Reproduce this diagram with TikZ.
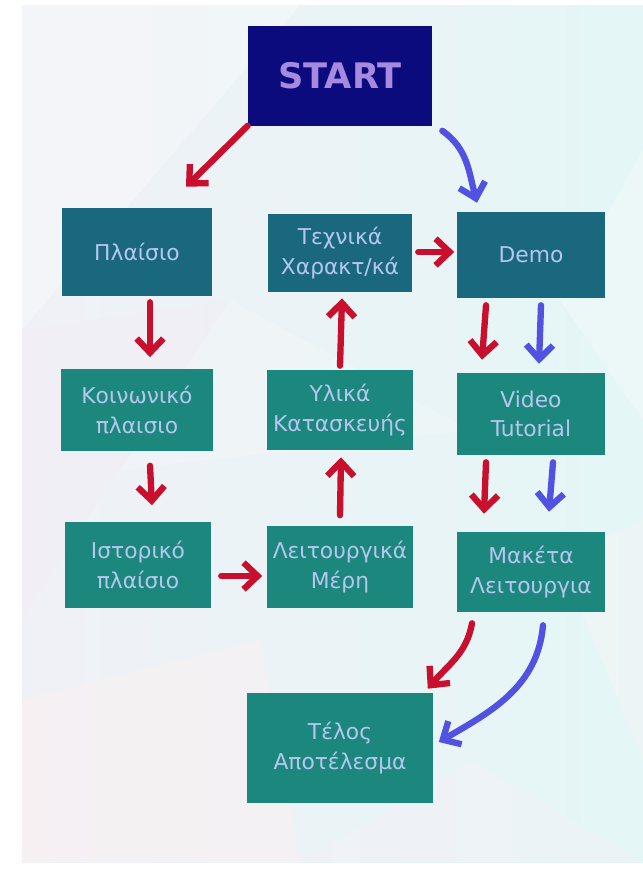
\documentclass[tikz,border=0pt]{standalone}
\usepackage{fontspec}
\setmainfont{DejaVu Sans}
\usepackage{tikz}
\usetikzlibrary{arrows.meta,calc,shapes,backgrounds}
\definecolor{startblue}{HTML}{0B0B7D}
\definecolor{startpurple}{HTML}{A68AE0}
\definecolor{stageteal}{HTML}{1A687E}
\definecolor{stagegreen}{HTML}{1C877C}
\definecolor{stagetext}{HTML}{B6C6F0}
\definecolor{arrowred}{HTML}{C8102E}
\definecolor{arrowblue}{HTML}{5252E2}
\definecolor{slideleft}{HTML}{F0F1F6}
\definecolor{slideright}{HTML}{E4F6F6}

\begin{document}
\begin{tikzpicture}[x=0.025cm, y=-0.025cm,
startbox/.style={rectangle, fill=startblue, text=startpurple, inner sep=0pt,
  font=\fontsize{25}{30}\selectfont\bfseries},
stage/.style={rectangle, fill=stagegreen, text=stagetext, align=center, inner sep=0pt,
  font=\fontsize{15.5}{21}\selectfont},
toprow/.style={stage, fill=stageteal},
redarrow/.style={draw=arrowred, line width=4.5pt, line cap=round, line join=round,
  -{Straight Barb[length=10pt,width=19pt]}},
bluearrow/.style={redarrow, draw=arrowblue}
    ]
  \useasboundingbox (0,0) rectangle (643,877);
  % slide background
  \fill[white] (0,0) rectangle (643,877);
  \shade[left color=slideleft, right color=slideright] (22,5) rectangle (643,862);
  \fill[white, opacity=.3] (22,5) -- (300,5) -- (22,330) -- cycle;
  \fill[violet!8, opacity=.3] (22,330) -- (230,300) -- (22,620) -- cycle;
  \fill[white, opacity=.2] (230,300) -- (470,430) -- (120,470) -- cycle;
  \fill[red!6, opacity=.4] (22,700) -- (260,640) -- (300,862) -- (22,862) -- cycle;
  \fill[violet!6, opacity=.4] (300,862) -- (470,760) -- (643,862) -- cycle;
  \fill[black!4, opacity=.5] (560,560) -- (643,520) -- (643,760) -- cycle;
  \fill[white, opacity=.3] (643,150) -- (560,300) -- (643,420) -- cycle;

  % boxes
  \node[startbox, minimum width=4.6cm, minimum height=2.475cm] (start) at (340,76) {START};

  \node[toprow, minimum width=3.725cm, minimum height=2.2cm] (plaisio) at (137,252) {Πλαίσιο};
  \node[toprow, minimum width=3.6cm, minimum height=1.95cm] (techn) at (340,253) {Τεχνικά\\Χαρακτ/κά};
  \node[toprow, minimum width=3.675cm, minimum height=2.15cm] (demo) at (531,255) {Demo};

  \node[stage, minimum width=3.775cm, minimum height=2.025cm] (koin) at (137,410) {Κοινωνικό\\πλαισιο};
  \node[stage, minimum width=3.625cm, minimum height=2cm] (ylika) at (340,410) {Υλικά\\Κατασκευής};
  \node[stage, minimum width=3.675cm, minimum height=2.05cm] (video) at (531,414) {Video\\Tutorial};

  \node[stage, minimum width=3.65cm, minimum height=2.125cm] (istor) at (138,565) {Ιστορικό\\πλαίσιο};
  \node[stage, minimum width=3.625cm, minimum height=2.025cm] (leit) at (340,567) {Λειτουργικά\\Μέρη};
  \node[stage, minimum width=3.675cm, minimum height=2cm] (maketa) at (531,572) {Μακέτα\\Λειτουργια};

  \node[stage, minimum width=4.625cm, minimum height=2.75cm] (telos) at (340,748) {Τέλος\\Αποτέλεσμα};

  % red path
  \draw[redarrow] (start.south west) -- ($(plaisio.north)+(49,-21)$);
  \draw[redarrow] ($(plaisio.south)+(13,6)$) -- ($(koin.north)+(13,-12)$);
  \draw[redarrow] ($(koin.south)+(13,15)$) -- ($(istor.north)+(14,-17)$);
  \draw[redarrow] ($(istor.east)+(10,11)$) -- ($(leit.west)+(-5,9)$);
  \draw[redarrow] ($(leit.north)+(0,-11)$) -- ($(ylika.south)+(1,7)$);
  \draw[redarrow] ($(ylika.north)+(0,-4)$) -- ($(techn.south)+(2,6)$);
  \draw[redarrow] ($(techn.east)+(6,-1)$) -- ($(demo.west)+(-3,-3)$);
  \draw[redarrow] ($(demo.south)+(-45,7)$) -- ($(video.north)+(-49,-13)$);
  \draw[redarrow] ($(video.south)+(-45,7)$) -- ($(maketa.north)+(-47,-18)$);
  \draw[redarrow] ($(maketa.south)+(-59,11)$) to[out=-100, in=50] ($(telos.north east)+(-5,-4)$);

  % blue path
  \draw[bluearrow] ($(start.south east)+(10,5)$) to[out=-35, in=105] ($(demo.north)+(-54,-9)$);
  \draw[bluearrow] ($(demo.south)+(10,7)$) -- ($(video.north)+(8,-9)$);
  \draw[bluearrow] ($(video.south)+(22,7)$) -- ($(maketa.north)+(18,-20)$);
  \draw[bluearrow] ($(maketa.south)+(12,13)$) to[out=-95, in=30] ($(telos.east)+(6,-6)$);
\end{tikzpicture}
\end{document}
